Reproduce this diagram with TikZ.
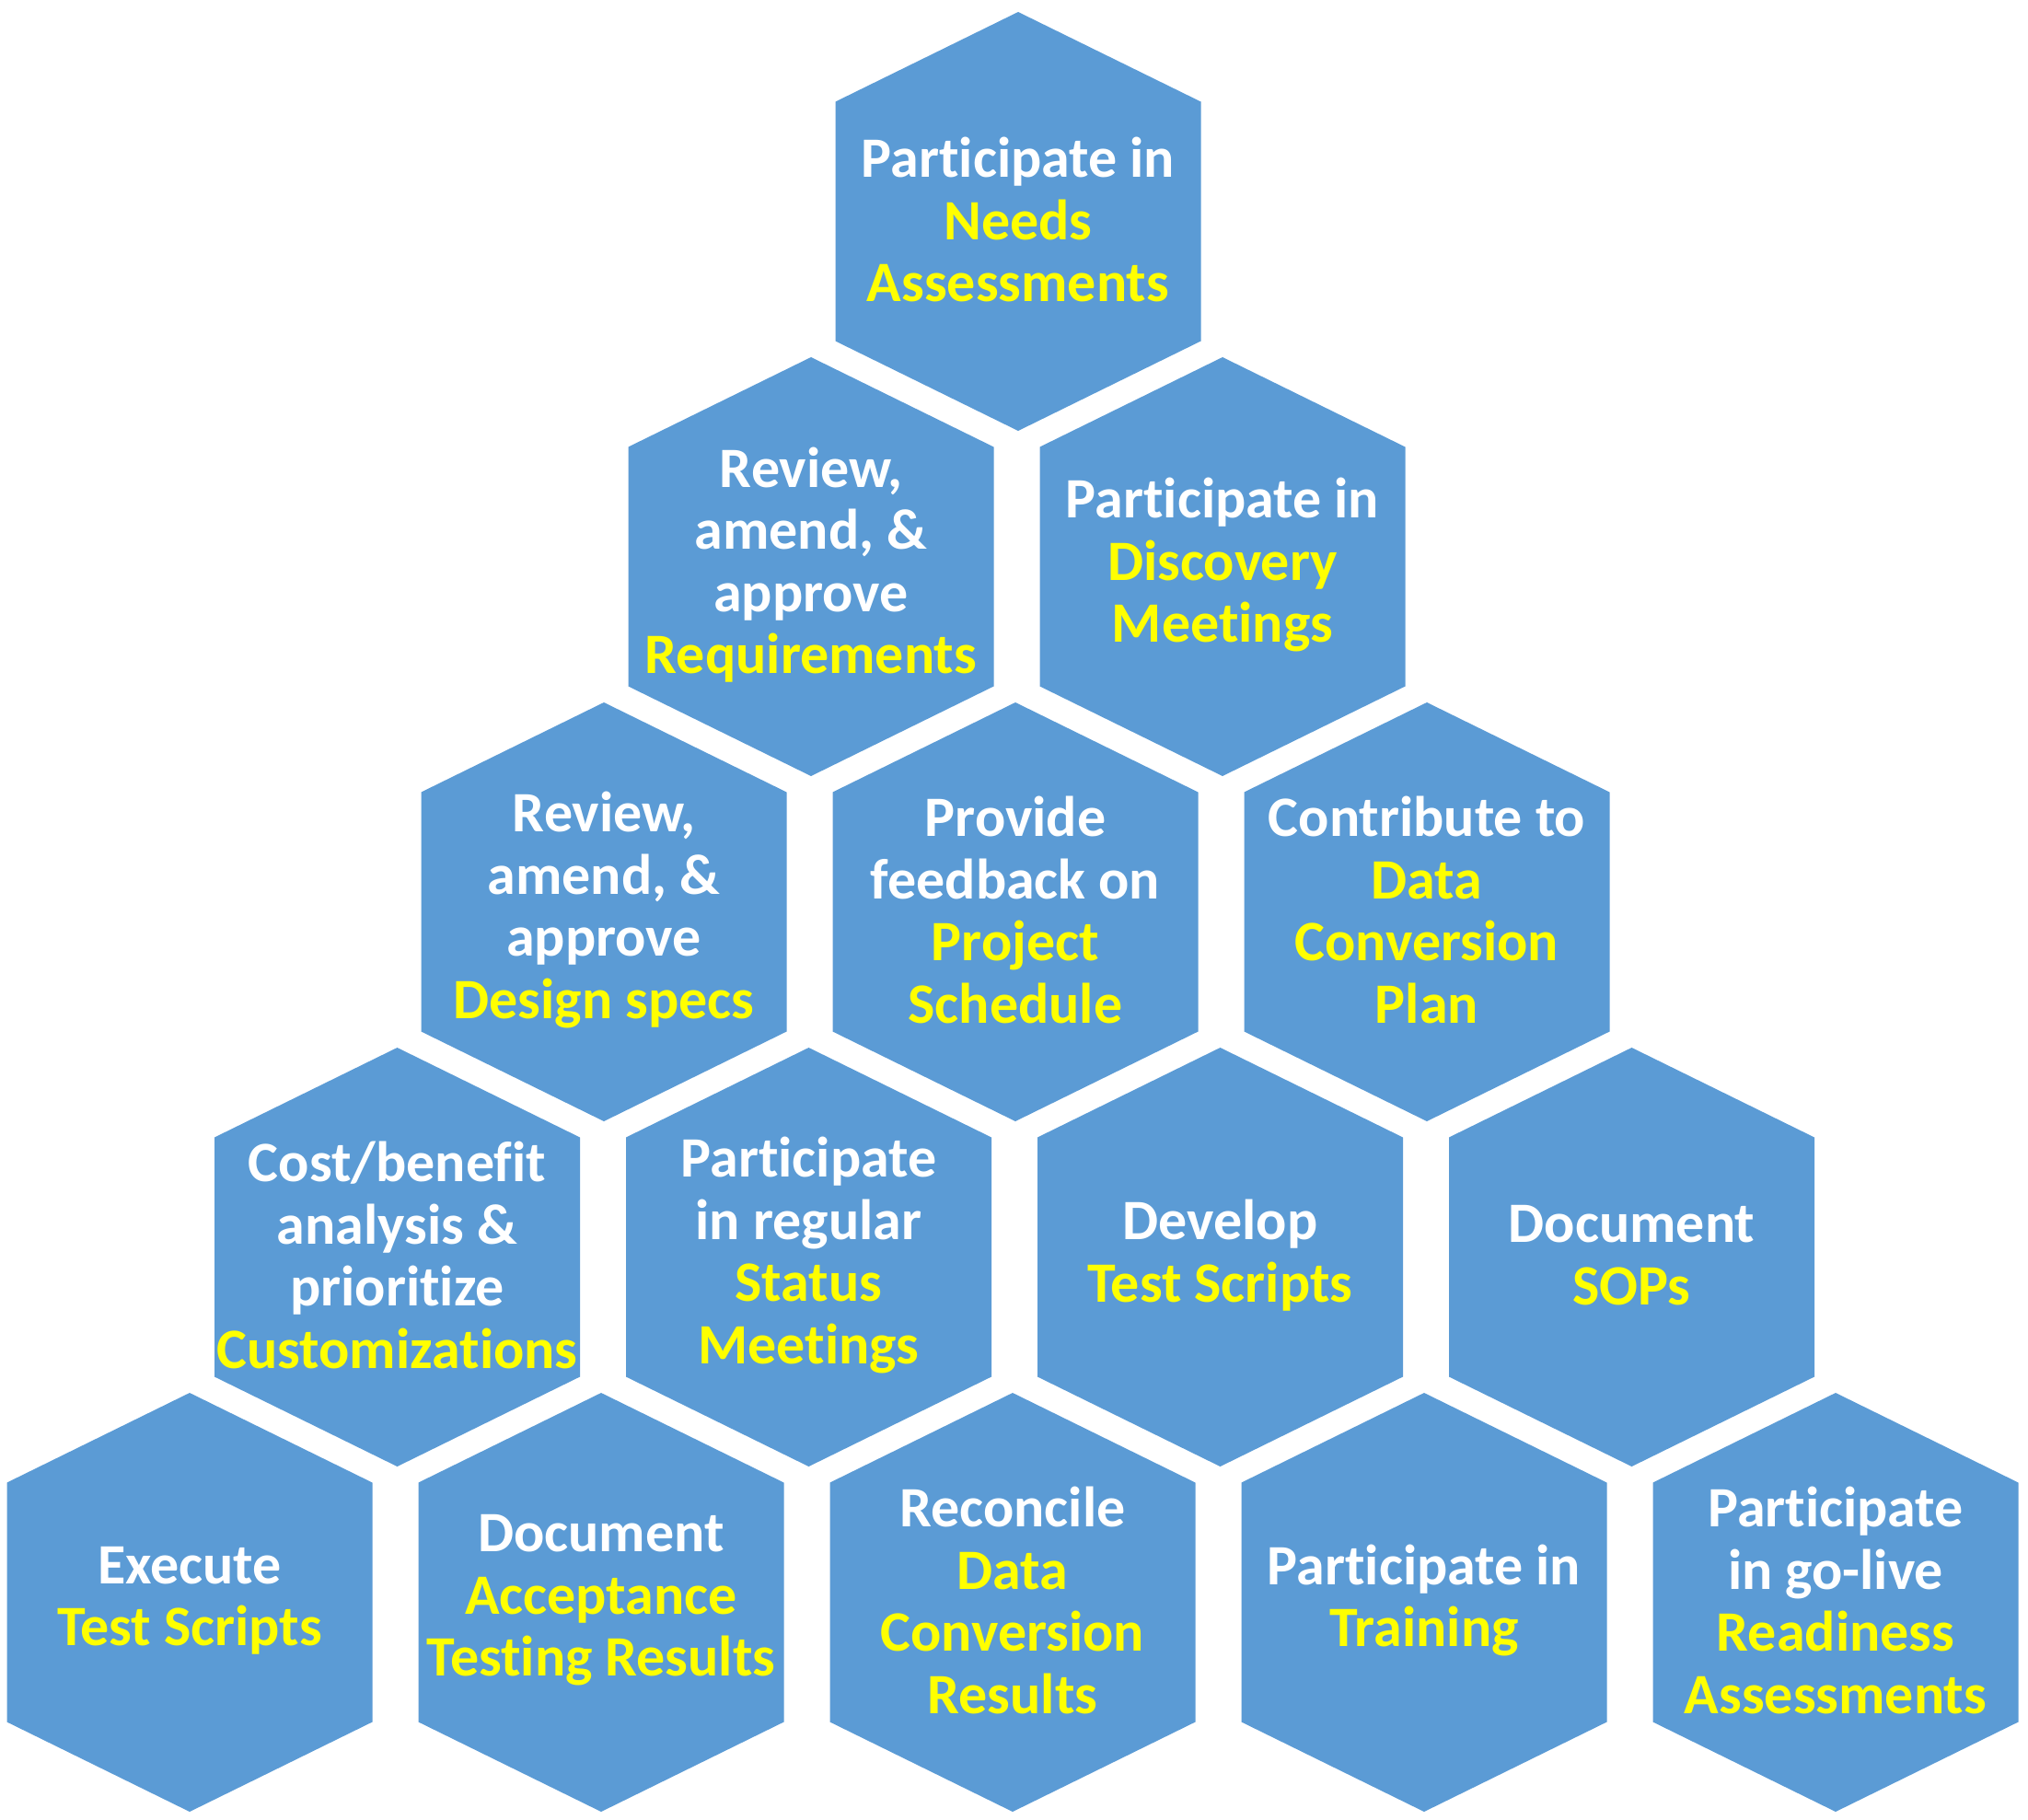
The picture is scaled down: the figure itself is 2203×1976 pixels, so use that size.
\documentclass[tikz,border=0pt]{standalone}
\usepackage{fontspec}
\setmainfont{Carlito}[Ligatures={NoCommon}]
\definecolor{hexblue}{HTML}{5B9BD5}
\definecolor{hexyellow}{HTML}{FFFF00}
\tikzset{
  hexfill/.style={fill=hexblue},
  hextext/.style={align=center, text=white, inner sep=0pt,
    font=\fontsize{62}{67.5}\selectfont\bfseries},
}
\newcommand\Y[1]{{\color{hexyellow}#1}}
\newcommand\hexcell[4]{%
  \begin{scope}[shift={(#2,#3)}]
    \fill[hexfill] (0,-227.5) -- (198.5,-130) -- (198.5,130) -- (0,227.5)
      -- (-198.5,130) -- (-198.5,-130) -- cycle;
    \node[hextext] (#1) at (0,-2) {#4};
  \end{scope}}
\begin{document}
\begin{tikzpicture}[x=1pt,y=-1pt]
\fill[white] (0,0) rectangle (2203,1976);
\useasboundingbox (0,0) rectangle (2203,1976);
% row 0
\hexcell{needs}{1106}{240.5}{Participate in\\\Y{Needs}\\\Y{Assessments}}
% row 1
\hexcell{req}{881}{615.5}{Review,\\amend, \&\\approve\\\Y{Requirements}}
\hexcell{disc}{1328}{615.5}{Participate in\\\Y{Discovery}\\\Y{Meetings}}
% row 2
\hexcell{design}{656}{990.5}{Review,\\amend, \&\\approve\\\Y{Design specs}}
\hexcell{sched}{1103}{990.5}{Provide\\feedback on\\\Y{Project}\\\Y{Schedule}}
\hexcell{conv}{1550}{990.5}{Contribute to\\\Y{Data}\\\Y{Conversion}\\\Y{Plan}}
% row 3
\hexcell{cust}{431.5}{1365.5}{Cost/benefit\\analysis \&\\prioritize\\\Y{Customizations}}
\hexcell{status}{878.5}{1365.5}{Participate\\in regular\\\Y{Status}\\\Y{Meetings}}
\hexcell{devtest}{1325.5}{1365.5}{Develop\\\Y{Test Scripts}}
\hexcell{sops}{1772.5}{1365.5}{Document\\\Y{SOPs}}
% row 4
\hexcell{exec}{206}{1740.5}{Execute\\\Y{Test Scripts}}
\hexcell{accept}{653}{1740.5}{Document\\\Y{Acceptance}\\\Y{Testing Results}}
\hexcell{recon}{1100}{1740.5}{Reconcile\\\Y{Data}\\\Y{Conversion}\\\Y{Results}}
\hexcell{train}{1547}{1740.5}{Participate in\\\Y{Training}}
\hexcell{golive}{1994}{1740.5}{Participate\\in go-live\\\Y{Readiness}\\\Y{Assessments}}
\end{tikzpicture}
\end{document}
